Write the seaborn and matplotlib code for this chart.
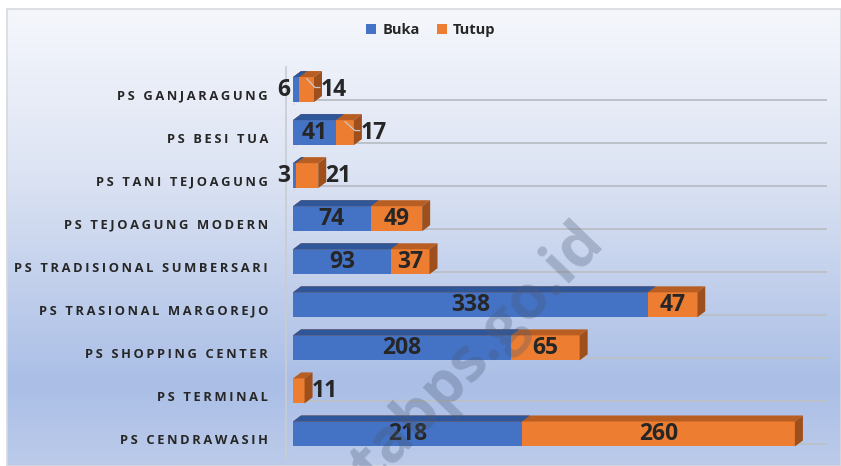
import numpy as np
import pandas as pd
import seaborn as sns
import matplotlib.pyplot as plt
import matplotlib.transforms as mtransforms
from matplotlib.colors import LinearSegmentedColormap
from matplotlib.patches import Polygon, Rectangle

# data
pasar = ['PS GANJARAGUNG', 'PS BESI TUA', 'PS TANI TEJOAGUNG', 'PS TEJOAGUNG MODERN',
         'PS TRADISIONAL SUMBERSARI', 'PS TRASIONAL MARGOREJO', 'PS SHOPPING CENTER',
         'PS TERMINAL', 'PS CENDRAWASIH']
buka = [6, 41, 3, 74, 93, 338, 208, 0, 218]
tutup = [14, 17, 21, 49, 37, 47, 65, 11, 260]

BLUE, ORANGE = '#4472C4', '#ED7D31'
BLUE_TOP, ORANGE_TOP, ORANGE_SIDE = '#30569a', '#b95e22', '#9e4f1b'
TXT = '#262626'

sns.set_theme(style='white')
plt.rcParams['font.family'] = ['Open Sans', 'DejaVu Sans']

df = pd.DataFrame({'pasar': pasar, 'buka': buka, 'tutup': tutup})
df['total'] = df['buka'] + df['tutup']

W, H = 841, 466
fig = plt.figure(figsize=(W / 100, H / 100), dpi=100)
fig.patch.set_facecolor('white')

# gradient background of the chart area
bg = fig.add_axes([7 / W, 0, 834 / W, 457 / H])
cmap = LinearSegmentedColormap.from_list('bg', [(0, '#f5f7fc'), (0.35, '#dde4f3'),
                                                (0.82, '#aabee6'), (1, '#bccbea')])
bg.imshow(np.linspace(0, 1, 256).reshape(-1, 1), cmap=cmap, aspect='auto',
          extent=[0, 1, 0, 1])
bg.set_axis_off()
fig.add_artist(Rectangle((7 / W, 0), 834 / W, 457 / H, transform=fig.transFigure,
                         fill=False, edgecolor='#d6d9de', lw=1.2))

ax = fig.add_axes([293 / W, 1 - 455.5 / H, (827 - 293) / W, (455.5 - 68) / H])
ax.patch.set_alpha(0)

sns.barplot(data=df, y='pasar', x='total', color=ORANGE, saturation=1, width=0.58,
            linewidth=0, label='Tutup', ax=ax, zorder=3)
sns.barplot(data=df, y='pasar', x='buka', color=BLUE, saturation=1, width=0.58,
            linewidth=0, label='Buka', ax=ax, zorder=3)
ax.set_xlim(0, (827 - 293) / 1.05)
ax.set_ylim(len(pasar) - 0.5, -0.5)
ax.set_xticks([])
ax.set_xlabel('')
ax.set_ylabel('')
for s in ax.spines.values():
    s.set_visible(False)
if ax.legend_:
    ax.legend_.remove()

# back wall gridlines (shifted for the 3d look)
grid_tr = ax.transData + mtransforms.ScaledTranslation(6 / 100, 11.5 / 100, fig.dpi_scale_trans)
bounds = np.arange(-0.5, len(pasar), 1.0)
ax.hlines(bounds, 0, ax.get_xlim()[1], colors='#bcc1c8', lw=1.4, transform=grid_tr, zorder=1)
wall_tr = ax.transData + mtransforms.ScaledTranslation(-7 / 100, 0, fig.dpi_scale_trans)
ax.vlines(0, bounds[0] - 0.05, bounds[-1] + 0.1, colors='#c9ccd2', lw=1.2,
          transform=wall_tr, clip_on=False, zorder=1)
ident = mtransforms.IdentityTransform()
for b in bounds:
    p0 = ax.transData.transform((0, b)) + np.array([-7, 0])
    p1 = ax.transData.transform((0, b)) + np.array([6, 11.5])
    ax.add_line(plt.Line2D([p0[0], p1[0]], [p0[1], p1[1]], color='#c9ccd2', lw=0.9,
                           ls=':', transform=ident, zorder=1))

# 3d top and side faces
DX, DY = 8, 6
n = len(pasar)
for i in range(n):
    y_top = i - 0.29
    y_bot = i + 0.29
    x_tot = df['total'][i]
    x_b = df['buka'][i]
    (ax0, ytp), (ax1, _) = ax.transData.transform([(0, y_top), (x_tot, y_top)])
    _, ybp = ax.transData.transform((x_tot, y_bot))
    xbp = ax.transData.transform((x_b, y_top))[0]
    ax.add_patch(Polygon([(ax0, ytp), (ax1, ytp), (ax1 + DX, ytp + DY), (ax0 + DX, ytp + DY)],
                         closed=True, facecolor=ORANGE_TOP, edgecolor='none',
                         transform=ident, zorder=3))
    ax.add_patch(Polygon([(ax1, ybp), (ax1, ytp), (ax1 + DX, ytp + DY), (ax1 + DX, ybp + DY)],
                         closed=True, facecolor=ORANGE_SIDE, edgecolor='none',
                         transform=ident, zorder=3))
    if x_b > 0:
        ax.add_patch(Polygon([(ax0, ytp), (xbp, ytp), (xbp + DX, ytp + DY), (ax0 + DX, ytp + DY)],
                             closed=True, facecolor=BLUE_TOP, edgecolor='none',
                             transform=ident, zorder=3))

# value labels
off = lambda px: ax.transData + mtransforms.ScaledTranslation(px / 100, 0, fig.dpi_scale_trans)
lab_kw = dict(fontsize=16.5, fontweight='bold', color=TXT, va='center', zorder=5)
for i in range(n):
    b, t = df['buka'][i], df['tutup'][i]
    if b >= 20:
        ax.text(b / 2, i, str(b), ha='center', **lab_kw)
    elif b > 0:
        ax.text(0, i, str(b), ha='right', transform=off(-3), **lab_kw)
    if t >= 25:
        ax.text(b + t / 2, i, str(t), ha='center', **lab_kw)
    else:
        ax.text(b + t, i, str(t), ha='left', transform=off(7), **lab_kw)
        if b >= 5:
            # leader line from the segment to the moved label
            xc, yc = ax.transData.transform((b + t / 2, i))
            xe = ax.transData.transform((b + t, i))[0]
            ax.add_line(plt.Line2D([xc, xe + 1, xe + 6], [yc + 11, yc + 2, yc + 2],
                                   color='#c8c8c8', lw=0.9, transform=ident, zorder=4))

# category labels, letter-spaced like the original
ax.set_yticks(range(n))
ax.set_yticklabels(['\u2009'.join(p) for p in pasar])
ax.tick_params(axis='y', length=0, pad=18)
for lbl in ax.get_yticklabels():
    lbl.set_fontsize(9.3)
    lbl.set_fontweight('bold')
    lbl.set_color(TXT)
    lbl.set_transform(lbl.get_transform() +
                      mtransforms.ScaledTranslation(0, -5 / 100, fig.dpi_scale_trans))

# legend
h, l = ax.get_legend_handles_labels()
order = [l.index('Buka'), l.index('Tutup')]
fig.legend([h[k] for k in order], [l[k] for k in order], loc='center',
           bbox_to_anchor=(431 / W, 1 - 30 / H), ncol=2, frameon=False,
           handlelength=0.7, handleheight=0.7, handletextpad=0.4, columnspacing=1.2,
           prop={'weight': 'bold', 'size': 10.5})

# watermark
fig.text(478 / W, 1 - 354 / H, 'tabps.go.id', rotation=46, ha='center', va='center',
         fontsize=44, fontweight='bold', color='#4a5a75', alpha=0.3, zorder=10)

fig.savefig('out.png', dpi=100)
